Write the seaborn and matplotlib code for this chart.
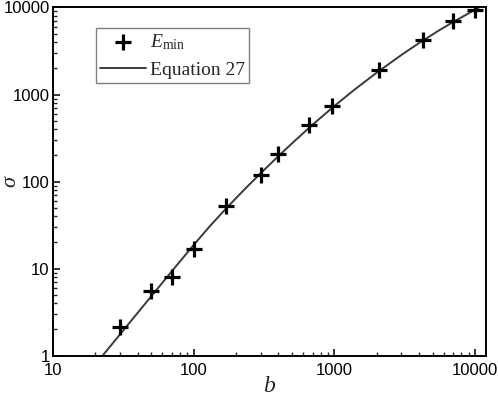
# sigma vs b, log-log, markers + Equation 27 curve
import matplotlib
matplotlib.use("Agg")
import matplotlib.pyplot as plt
from matplotlib.ticker import FuncFormatter, LogLocator, NullFormatter
import seaborn as sns

# E_min points
b_pts = [30, 50, 70, 100, 170, 300, 400, 665, 965, 2080, 4280, 7000, 10000]
sigma_pts = [2.16, 5.55, 8.1, 16.9, 51.8, 120, 209, 451, 747, 1900, 4220, 6970, 9400]

# Equation 27 curve
b_eq = [22.5, 25, 30, 40, 50, 70, 100, 130, 170, 230, 300, 400, 500, 700,
        1000, 1400, 2000, 3000, 4000, 5500, 7000, 10000, 10800]
sigma_eq = [1.0, 1.23, 1.76, 3.11, 4.82, 9.35, 18.7, 30.6, 49.1, 81.5, 125, 196,
            275, 450, 738, 1147, 1782, 2852, 3903, 5410, 6818, 9413, 10140]

sns.set_style("ticks")
plt.rcParams["font.family"] = ["Liberation Sans", "DejaVu Sans"]
plt.rcParams["mathtext.fontset"] = "custom"
plt.rcParams["mathtext.rm"] = "Liberation Serif"
plt.rcParams["mathtext.it"] = "Liberation Serif:italic"

fig = plt.figure(figsize=(4.98, 3.96), dpi=100)
ax = fig.add_axes([0.1064, 0.1018, 0.8695, 0.8793])
ax.set_xscale("log")
ax.set_yscale("log")

sns.lineplot(x=b_eq, y=sigma_eq, ax=ax, color="#3a3a3a", linewidth=1.4,
             label="Equation 27", sort=False)
sns.scatterplot(x=b_pts, y=sigma_pts, ax=ax, marker="+", s=130, linewidth=2.3,
                color="black", label=r"$E_{\rm min}$", zorder=3)

ax.set_xlim(10, 11970)
ax.set_ylim(1, 10000)

fmt = FuncFormatter(lambda v, _: f"{v:g}")
for axis in (ax.xaxis, ax.yaxis):
    axis.set_major_locator(LogLocator(base=10, numticks=10))
    axis.set_minor_locator(LogLocator(base=10, subs=range(2, 10), numticks=100))
    axis.set_major_formatter(fmt)
    axis.set_minor_formatter(NullFormatter())

ax.tick_params(which="major", direction="in", length=5, width=1.1, labelsize=12,
               top=False, right=False, colors="black")
ax.tick_params(axis="x", which="major", pad=5.5)
ax.tick_params(axis="y", which="major", pad=2.5)
ax.tick_params(which="minor", direction="in", length=3, width=1.0,
               top=False, right=False)
for s in ax.spines.values():
    s.set_linewidth(1.4)
    s.set_color("black")

ax.set_xlabel("b", fontsize=17, fontstyle="italic", family="Liberation Serif")
ax.set_ylabel("σ", fontsize=16, fontstyle="italic", family="Liberation Serif")
ax.xaxis.set_label_coords(0.499, -0.057)
ax.yaxis.set_label_coords(-0.076, 0.5)

handles, labels = ax.get_legend_handles_labels()
leg = ax.legend(handles[::-1], labels[::-1], loc="upper left",
                bbox_to_anchor=(0.099, 0.941), borderaxespad=0, frameon=True,
                fancybox=False, edgecolor="#808080", framealpha=1, borderpad=0.2,
                handlelength=2.4, handletextpad=0.2, labelspacing=0.5,
                prop={"family": "Liberation Serif", "size": 14})
leg.get_frame().set_linewidth(1.0)

fig.savefig("out.png", dpi=100)
